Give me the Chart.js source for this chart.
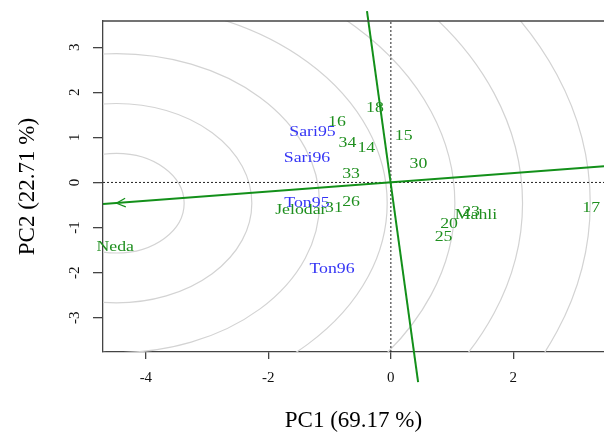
<!DOCTYPE html>
<html>
<head>
<meta charset="utf-8">
<script src="https://cdn.jsdelivr.net/npm/chart.js@4.4.0/dist/chart.umd.min.js"></script>
<style>
html, body { margin: 0; padding: 0; background: #fff; }
#wrap { width: 604px; height: 435px; }
</style>
</head>
<body>
<div id="wrap"><canvas id="myChart"></canvas></div>
<script>
// genotypes (green labels)
var genoNames = ['18', '16', '34', '14', '15', '30', '33', '26', '31', 'Jelodar', '23', 'Mahli', '20', '25', '17', 'Neda'];
var genoX = [-0.26, -0.88, -0.71, -0.40, 0.21, 0.45, -0.65, -0.65, -0.93, -1.47, 1.31, 1.39, 0.95, 0.86, 3.27, -4.50];
var genoY = [1.64, 1.33, 0.87, 0.76, 1.03, 0.40, 0.17, -0.45, -0.58, -0.62, -0.66, -0.74, -0.92, -1.22, -0.57, -1.43];

// environments (blue labels)
var envNames = ['Sari95', 'Sari96', 'Ton95', 'Ton96'];
var envX = [-1.28, -1.37, -1.37, -0.96];
var envY = [1.11, 0.53, -0.46, -1.93];

// average environment axis and its perpendicular
var idealPoint = [-4.48, -0.46];
var aecX = [-4.70, 3.48];
var aecY = [-0.48, 0.36];
var perpX = [-0.39, 0.445];
var perpY = [3.80, -4.43];
var ringRadii = [1.105, 2.21, 3.315, 4.42, 5.525, 6.63, 7.735];

var xMin = -4.70, xMax = 3.48, yMin = -3.76, yMax = 3.58;
var xTitle = 'PC1 (69.17 %)';
var yTitle = 'PC2 (22.71 %)';

var green = '#13901a';
var textGreen = '#1f8f1f';
var blue = '#3535f5';
var axisCol = '#444';

function pts(xs, ys) {
  return xs.map(function(v, i) { return {x: v, y: ys[i]}; });
}

var biplotExtras = {
  id: 'biplotExtras',
  beforeDatasetsDraw: function(chart) {
    var ctx = chart.ctx, a = chart.chartArea;
    var xs = chart.scales.x, ys = chart.scales.y;
    var cx = xs.getPixelForValue(idealPoint[0]);
    var cy = ys.getPixelForValue(idealPoint[1]);
    ctx.save();
    ctx.beginPath();
    ctx.rect(a.left, a.top, a.right - a.left, a.bottom - a.top);
    ctx.clip();
    ctx.strokeStyle = '#d3d3d3';
    ctx.lineWidth = 1.2;
    ringRadii.forEach(function(r) {
      var rx = xs.getPixelForValue(idealPoint[0] + r) - cx;
      var ry = cy - ys.getPixelForValue(idealPoint[1] + r);
      ctx.beginPath();
      ctx.ellipse(cx, cy, rx, ry, 0, 0, Math.PI * 2);
      ctx.stroke();
    });
    ctx.restore();
  },
  afterDatasetsDraw: function(chart) {
    var ctx = chart.ctx, a = chart.chartArea;
    var xs = chart.scales.x, ys = chart.scales.y;

    // top frame line
    ctx.save();
    ctx.strokeStyle = axisCol;
    ctx.lineWidth = 1.3;
    ctx.beginPath();
    ctx.moveTo(a.left, a.top);
    ctx.lineTo(a.right, a.top);
    ctx.stroke();

    // open arrow head at the ideal point
    var ox = xs.getPixelForValue(0), oy = ys.getPixelForValue(0);
    var px = xs.getPixelForValue(idealPoint[0]), py = ys.getPixelForValue(idealPoint[1]);
    var ang = Math.atan2(py - oy, px - ox);
    var len = 10, spread = Math.PI / 7;
    ctx.strokeStyle = green;
    ctx.lineWidth = 1.2;
    ctx.beginPath();
    ctx.moveTo(px - len * Math.cos(ang - spread), py - len * Math.sin(ang - spread));
    ctx.lineTo(px, py);
    ctx.lineTo(px - len * Math.cos(ang + spread), py - len * Math.sin(ang + spread));
    ctx.stroke();

    // text labels
    ctx.font = '14px "Liberation Serif", serif';
    ctx.textAlign = 'center';
    ctx.textBaseline = 'middle';
    function label(txt, x, y, col) {
      ctx.save();
      ctx.translate(xs.getPixelForValue(x), ys.getPixelForValue(y));
      ctx.scale(1.27, 1);
      ctx.fillStyle = col;
      ctx.fillText(txt, 0, 0);
      ctx.restore();
    }
    envNames.forEach(function(n, i) { label(n, envX[i], envY[i], blue); });
    genoNames.forEach(function(n, i) { label(n, genoX[i], genoY[i], textGreen); });
    ctx.restore();
  }
};

var ctx = document.getElementById('myChart').getContext('2d');
var myChart = new Chart(ctx, {
  type: 'scatter',
  data: {
    datasets: [
      { label: 'genotypes', data: pts(genoX, genoY), pointRadius: 0, order: 1 },
      { label: 'environments', data: pts(envX, envY), pointRadius: 0, order: 1 },
      { label: 'AEC', data: pts(aecX, aecY), showLine: true, borderColor: green, borderWidth: 2, pointRadius: 0, order: 2 },
      { label: 'perp', data: pts(perpX, perpY), showLine: true, borderColor: green, borderWidth: 2, pointRadius: 0, clip: false, order: 2 },
      { label: 'zeroX', data: [{x: 0, y: yMin}, {x: 0, y: yMax}], showLine: true, borderColor: '#222', borderWidth: 1, borderDash: [2, 2], pointRadius: 0, order: 3 },
      { label: 'zeroY', data: [{x: xMin, y: 0}, {x: xMax, y: 0}], showLine: true, borderColor: '#222', borderWidth: 1, borderDash: [2, 2], pointRadius: 0, order: 3 }
    ]
  },
  options: {
    responsive: true,
    maintainAspectRatio: false,
    animation: false,
    layout: { padding: { top: 16, right: 0, bottom: 0, left: 0 } },
    plugins: { legend: { display: false }, tooltip: { enabled: false } },
    scales: {
      x: {
        type: 'linear',
        min: xMin, max: xMax,
        afterFit: function(s) { s.height = 83; },
        ticks: { stepSize: 2, includeBounds: false, padding: 10, color: '#111',
                 font: { family: '"Liberation Serif", serif', size: 15 } },
        grid: { drawOnChartArea: false, drawTicks: true, tickLength: 7, color: axisCol, lineWidth: 1.3 },
        border: { color: axisCol, width: 1.3 },
        title: { display: true, text: xTitle, color: '#000', padding: { top: 0, bottom: 0 },
                 font: { family: '"Liberation Serif", serif', size: 23, weight: 'normal' } }
      },
      y: {
        type: 'linear',
        min: yMin, max: yMax,
        afterFit: function(s) { s.width = 103; },
        ticks: { stepSize: 1, includeBounds: false, padding: 12, minRotation: 90, maxRotation: 90,
                 crossAlign: 'center', color: '#111',
                 font: { family: '"Liberation Serif", serif', size: 15 } },
        grid: { drawOnChartArea: false, drawTicks: true, tickLength: 10, color: axisCol, lineWidth: 1.3 },
        border: { color: axisCol, width: 1.3 },
        title: { display: true, text: yTitle, color: '#000', padding: { top: 14, bottom: 0 },
                 font: { family: '"Liberation Serif", serif', size: 23, weight: 'normal' } }
      }
    }
  },
  plugins: [biplotExtras]
});
</script>
</body>
</html>
